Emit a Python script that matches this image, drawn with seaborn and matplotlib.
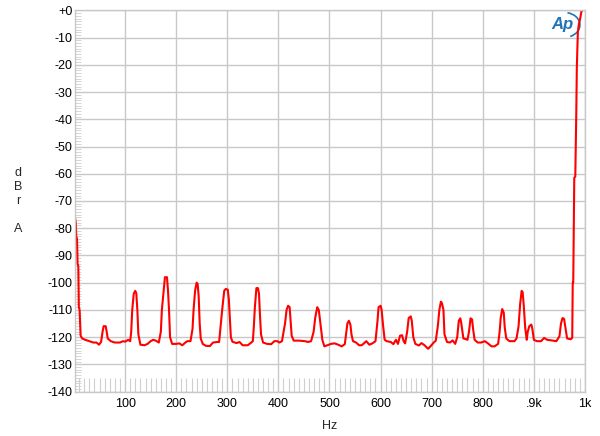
import matplotlib
matplotlib.use("Agg")
import matplotlib.pyplot as plt
from matplotlib.ticker import MultipleLocator, FixedLocator
from matplotlib.patches import Arc
import seaborn as sns
import pandas as pd

# ---- data ----
freq_hz = [2, 3.5, 4.5, 6, 7, 8.5, 9.5, 11, 13, 16, 22, 30, 38, 44, 49, 53, 56, 58, 62, 64, 66,
           72, 80, 90, 96, 100, 106, 110, 112, 114, 117, 120, 122, 124, 126, 130, 138, 144, 150,
           155, 160, 166, 170, 172, 175, 178, 182, 184, 186, 188, 192, 200, 206, 212, 218, 222,
           228, 232, 234, 237, 240, 242, 244, 246, 248, 252, 258, 266, 272, 280, 284, 287, 290,
           294, 297, 301, 303, 305, 307, 310, 318, 324, 330, 340, 345, 350, 352, 354, 357, 360,
           362, 364, 366, 370, 378, 386, 392, 398, 402, 407, 413, 416, 419, 422, 424, 426, 430,
           440, 452, 458, 464, 469, 472, 476, 479, 481, 484, 486, 490, 496, 503, 510, 517, 524,
           530, 533, 535, 538, 541, 543, 546, 552, 558, 563, 568, 572, 578, 584, 590, 594, 596,
           600, 602, 605, 608, 612, 620, 625, 630, 634, 638, 642, 645, 648, 652, 655, 659, 661,
           664, 668, 675, 680, 686, 693, 698, 704, 708, 712, 715, 718, 720, 723, 725, 730, 736,
           741, 746, 750, 753, 756, 758, 762, 766, 770, 773, 776, 779, 781, 784, 790, 797, 804,
           810, 817, 823, 830, 833, 835, 838, 841, 843, 846, 852, 862, 866, 870, 873, 876, 878,
           880, 883, 886, 888, 891, 895, 897, 900, 906, 914, 920, 926, 934, 944, 950, 953, 956,
           959, 962, 965, 972, 975, 976, 977, 979, 981, 983, 984, 986, 988, 990, 993, 996, 1000]
level_dbr = [-76, -78, -83, -84, -93, -94, -109, -110, -119.5, -120.5, -121.0, -121.5, -122.0,
             -122.0, -122.8, -121.8, -118, -116, -116, -118, -120.5, -121.5, -122.0, -122.0,
             -121.5, -121.7, -121.0, -121.5, -118, -110, -104, -103, -104, -110, -119, -122.8,
             -123, -122.5, -121.5, -121, -121.3, -122, -118, -110, -104, -98, -98, -103, -110,
             -120, -122.5, -122.5, -122.3, -123, -122, -121.5, -121.5, -117, -110, -103, -100,
             -100.5, -105, -115, -120.5, -122.5, -123.2, -123.3, -122.0, -121.8, -121.8, -116,
             -110, -103, -102.3, -102.6, -106, -113, -120, -121.7, -122.2, -121.8, -123, -123,
             -122.3, -121.5, -116, -109, -102, -102, -104, -112, -119, -122.0, -122.5, -122.6,
             -121.5, -121.5, -122.0, -121.5, -115, -110, -108.5, -109, -114, -119.5, -121.3,
             -121.3, -121.5, -121.8, -121.5, -118, -113, -109, -110, -113, -118, -121, -123.4,
             -123.0, -122.5, -122.3, -122.8, -123.4, -122.6, -118, -115, -114, -115.5, -119,
             -121.5, -122, -123, -123, -122.2, -121.5, -122.8, -122.3, -121.5, -114, -109,
             -108.5, -110, -116, -121, -121.5, -121.8, -122.6, -121.0, -122.5, -119.5, -119.3,
             -121.5, -122.3, -118, -113, -112.4, -114, -120, -122.5, -123.1, -122.2, -123,
             -124.3, -123.3, -122, -121.3, -116, -110, -107, -107.5, -110, -119, -121.8, -122,
             -121.2, -122.5, -120, -114, -113.1, -115, -120.5, -120.7, -121.0, -118, -113.1,
             -113.5, -117, -121, -122, -122, -121.5, -122.3, -123.4, -123.4, -122.5, -118, -113,
             -109.7, -111, -116.6, -120.5, -121.5, -121.5, -120.5, -116, -108, -103, -103.5,
             -108, -116.6, -121, -118, -116, -115.4, -117, -121, -121.5, -121.5, -120.3, -121,
             -121.2, -121.5, -119.7, -115, -113, -113.3, -117, -120.5, -120.8, -120.3, -100,
             -100, -61.5, -61, -37, -21, -8, -5, -3.5, -0.4, 0.5, 1]

x_tick_values = [100, 200, 300, 400, 500, 600, 700, 800, 900, 1000]
x_tick_labels = ["100", "200", "300", "400", "500", "600", "700", "800", ".9k", "1k"]
y_tick_values = list(range(0, -141, -10))
y_tick_labels = ["+0"] + [str(v) for v in y_tick_values[1:]]

df = pd.DataFrame({"Hz": freq_hz, "dBr": level_dbr})

sns.set_style("white")
plt.rcParams["font.family"] = ["Liberation Sans", "DejaVu Sans"]

grid_c = "#c8c8c8"
fig = plt.figure(figsize=(6.0, 4.36), dpi=100)
ax = fig.add_axes([0.125, 0.102, 0.85, 0.874])

sns.lineplot(data=df, x="Hz", y="dBr", ax=ax, color="#ff0000", linewidth=1.5,
             estimator=None, sort=False, legend=False)

ax.set_xlim(2, 1000)
ax.set_ylim(-140, 0)

ax.xaxis.set_major_locator(FixedLocator(x_tick_values))
ax.set_xticklabels(x_tick_labels)
ax.yaxis.set_major_locator(FixedLocator(y_tick_values))
ax.set_yticklabels(y_tick_labels)
ax.xaxis.set_minor_locator(MultipleLocator(10))
ax.yaxis.set_minor_locator(MultipleLocator(1))

ax.tick_params(which="both", bottom=True, left=True, top=False, right=False)
ax.tick_params(which="major", length=0, labelsize=9, colors="black", pad=2)
ax.tick_params(axis="x", which="major", pad=5)
ax.tick_params(axis="x", which="minor", direction="in", length=9.8, width=0.8, color="#cfcfcf")
ax.tick_params(axis="y", which="minor", direction="in", length=4.3, width=0.6, color="#cfcfcf")

ax.grid(True, which="major", color=grid_c, linewidth=1.0)
ax.set_axisbelow(True)
for s in ax.spines.values():
    s.set_color(grid_c)
    s.set_linewidth(1.0)

ax.set_xlabel("Hz", fontsize=9, labelpad=7)
ax.set_ylabel("")
fig.text(0.03, 0.539, "d\nB\nr\n\nA", ha="center", va="center", fontsize=9, linespacing=1.2)

# AP logo
ax.text(0.955, 0.962, "Ap", transform=ax.transAxes, ha="center", va="center",
        fontsize=12, fontstyle="italic", fontweight="bold", color="#1f74b8")
ax.add_patch(Arc((0.96, 0.962), 0.06, 0.065, theta1=-70, theta2=80,
                 transform=ax.transAxes, color="#1f74b8", linewidth=1.2))

fig.savefig("out.png", dpi=100)
